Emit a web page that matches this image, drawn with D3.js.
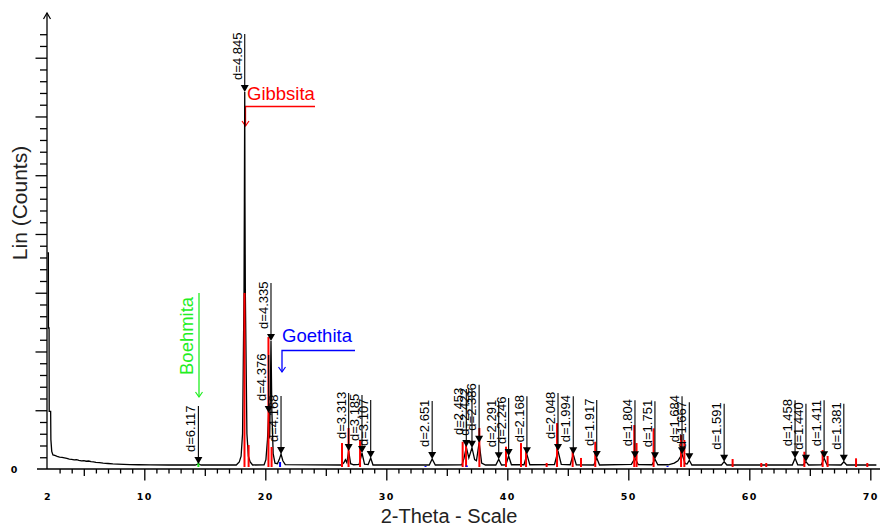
<!DOCTYPE html>
<html lang="en">
 <head>
  <meta charset="UTF-8">
  <title>XRD</title>
  <style>
   body { margin: 0; background: #fff; }
   svg { display: block; font-family: "Liberation Sans", Arial, sans-serif; }
  </style>
 </head>
 <body>
<svg width="881" height="527"></svg>
<script src="https://cdn.jsdelivr.net/npm/d3@7/dist/d3.min.js"></script>
<script>

// measured pattern: [2theta, counts]
var pattern = [[2.00,1838],[2.07,1838],[2.08,1200],[2.13,1200],[2.14,490],[2.26,490],[2.28,250],[2.35,150],[2.45,120],
  [2.6,115],[2.8,108],[3.0,102],[3.2,98],[3.4,94],[3.6,90],[3.8,84],[4.0,82],[4.2,78],[4.4,80],[4.6,74],[4.8,70],
  [5.0,72],[5.2,66],[5.4,68],[5.6,62],[5.8,60],[6.0,56],[6.3,54],[6.6,50],[7.0,47],[7.4,44],[7.8,42],[8.3,40],
  [8.8,38],[9.5,36],[10.5,35],[12.0,34],[14.2,34],[14.47,43],[14.7,34],
  [17.6,34],[17.85,60],[18.0,110],[18.12,300],[18.24,1500],[18.27,2270],[18.30,3209],[18.32,2270],[18.35,1500],[18.48,300],[18.6,110],[18.75,60],[18.95,34],
  [19.9,36],[20.05,80],[20.18,250],[20.28,477],[20.36,260],[20.41,600],[20.47,1090],[20.54,500],[20.65,130],[20.8,50],
  [21.0,45],[21.15,80],[21.30,128],[21.45,70],[21.65,38],
  [26.3,34],[26.5,55],[26.62,80],[26.74,55],[26.89,153],[27.05,45],[27.3,36],[27.75,40],[27.99,136],[28.2,42],[28.5,38],[28.71,94],[28.9,34],
  [33.55,34],[33.79,85],[34.05,34],
  [36.25,36],[36.42,90],[36.61,187],[36.82,95],[37.08,181],[37.3,80],[37.45,70],[37.67,224],[37.88,50],[38.2,34],
  [39.05,34],[39.29,83],[39.52,34],[39.88,36],[40.11,111],[40.34,36],[41.38,36],[41.62,125],[41.86,36],
  [43.9,38],[44.19,153],[44.46,40],[45.2,36],[45.45,125],[45.7,36],[47.15,34],[47.39,94],[47.62,34],
  [50.25,40],[50.55,91],[50.82,38],[51.96,36],[52.20,83],[52.44,36],[53.3,36],[53.8,50],[54.1,70],[54.44,125],[54.7,45],[54.85,42],[55.04,74],[55.25,34],
  [57.7,34],[57.92,62],[58.15,34],
  [63.55,34],[63.78,91],[64.0,36],[64.45,34],[64.68,62],[64.9,34],[65.95,36],[66.18,91],[66.42,36],[67.58,34],[67.81,62],[68.05,34],[70.5,34]];

// reference sticks
var gibbsite2theta = [18.28,18.62,20.26,20.52,26.34,26.88,27.83,36.31,36.59,37.69,39.89,41.13,41.55,43.25,44.11,45.40,46.09,47.27,
  50.49,50.68,52.09,54.36,54.63,58.62,60.99,61.40,64.55,66.06,66.47,68.82,69.75];
var gibbsiteCounts = [1498,204,1123,187,221,349,247,232,204,349,190,221,179,51,391,179,94,232,
  374,221,346,289,247,85,51,51,147,162,111,91,51];
var goethite2theta = [21.22,33.24,36.65,53.24];
var goethiteCounts = [60,25,30,25];
var boehmite2theta = [14.47];
var boehmiteCounts = [55];

// d-value markers
var markerD = ["6.117","4.845","4.376","4.335","4.168","3.313","3.185","3.107","2.651","2.453","2.422","2.386","2.291","2.246",
  "2.168","2.048","1.994","1.917","1.804","1.751","1.684","1.667","1.591","1.458","1.440","1.411","1.381"];
var marker2theta = [14.47,18.30,20.28,20.47,21.30,26.89,27.99,28.71,33.79,36.61,37.08,37.67,39.29,40.11,
  41.62,44.19,45.45,47.39,50.55,52.20,54.44,55.04,57.92,63.78,64.68,66.18,67.81];
var markerCounts = [43,3209,477,1090,128,153,136,94,85,187,181,224,83,111,
  125,153,125,94,91,83,125,74,62,91,62,91,62];

var xLabels = [2,10,20,30,40,50,60,70];

var svg = d3.select("svg");
var x = d3.scaleLinear().domain([2, 70.8]).range([47.5, 880]);
var y = d3.scaleLinear().domain([0, 3872]).range([469, 14]);

// x axis: line + three tick sizes
svg.append("line").attr("x1", 37).attr("x2", 880).attr("y1", y(0)).attr("y2", y(0))
  .attr("stroke", "#000").attr("stroke-width", 1.3);
function xTicks(vals, size) {
  svg.append("g").attr("transform", "translate(0," + y(0) + ")")
    .call(d3.axisBottom(x).tickValues(vals).tickSize(size).tickFormat(""))
    .call(function(g){ g.select(".domain").remove(); g.selectAll("line").attr("stroke", "#000").attr("stroke-width", 1.3); });
}
xTicks(d3.range(3, 71, 1).filter(function(v){ return v % 5 != 0; }), 4.5);
xTicks(d3.range(5, 71, 10), 7);
xTicks(d3.range(10, 71, 10), 11.5);
svg.append("g").attr("transform", "translate(0," + y(0) + ")")
  .call(d3.axisBottom(x).tickValues(xLabels).tickSize(0).tickPadding(24).tickFormat(d3.format("d")))
  .call(function(g){
    g.select(".domain").remove();
    g.selectAll("text").attr("font-family", "DejaVu Sans, sans-serif").attr("font-weight", "bold")
      .attr("font-size", 9.5).attr("letter-spacing", 1.5).attr("fill", "#000");
  });

// y axis
svg.append("line").attr("x1", x(2) - 0.5).attr("x2", x(2) - 0.5).attr("y1", y(0)).attr("y2", 13)
  .attr("stroke", "#000").attr("stroke-width", 1.3);
svg.append("path").attr("d", "M" + (x(2) - 4) + ",19L" + (x(2) - 0.5) + ",13L" + (x(2) + 3) + ",19")
  .attr("fill", "none").attr("stroke", "#000").attr("stroke-width", 1.2);
function yTicks(vals, size) {
  svg.append("g").attr("transform", "translate(" + (x(2) - 0.5) + ",0)")
    .call(d3.axisLeft(y).tickValues(vals).tickSize(size).tickFormat(""))
    .call(function(g){ g.select(".domain").remove(); g.selectAll("line").attr("stroke", "#000").attr("stroke-width", 1.3); });
}
yTicks(d3.range(100, 3800, 100).filter(function(v){ return v % 500 != 0; }), 7);
yTicks(d3.range(500, 3800, 500), 11.5);
svg.append("text").attr("x", 14).attr("y", y(0) + 3.5).attr("text-anchor", "middle")
  .attr("font-family", "DejaVu Sans, sans-serif").attr("font-weight", "bold").attr("font-size", 9.5).text("0");

// axis titles
svg.append("text").attr("transform", "translate(27,203) rotate(-90)").attr("text-anchor", "middle")
  .attr("font-size", 21).attr("fill", "#222").text("Lin (Counts)");
svg.append("text").attr("x", 449).attr("y", 523).attr("text-anchor", "middle")
  .attr("font-size", 20).attr("fill", "#222").text("2-Theta - Scale");

// phase labels with pointers
function chevron(cx, cy, color) {
  svg.append("path").attr("d", "M" + (cx - 3.5) + "," + (cy - 5) + "L" + cx + "," + cy + "L" + (cx + 3.5) + "," + (cy - 5))
    .attr("fill", "none").attr("stroke", color).attr("stroke-width", 1.2);
}
svg.append("text").attr("x", 247).attr("y", 100).attr("font-size", 18.5).attr("fill", "#ff0000").text("Gibbsita");
svg.append("path").attr("d", "M315,106.5H245.5V126").attr("fill", "none").attr("stroke", "#ff0000").attr("stroke-width", 1.3);
chevron(245.5, 126, "#ff0000");

svg.append("text").attr("transform", "translate(193,375) rotate(-90)").attr("font-size", 18.5).attr("fill", "#22ee22").text("Boehmita");
svg.append("line").attr("x1", 199).attr("x2", 199).attr("y1", 293).attr("y2", 397).attr("stroke", "#22ee22").attr("stroke-width", 1.3);
chevron(199, 397, "#22ee22");

svg.append("text").attr("x", 282).attr("y", 342).attr("font-size", 18.5).attr("fill", "#0000ff").text("Goethita");
svg.append("path").attr("d", "M355,350.5H282V372").attr("fill", "none").attr("stroke", "#0000ff").attr("stroke-width", 1.3);
chevron(282, 372, "#0000ff");

// measured pattern
svg.append("path").datum(pattern)
  .attr("d", d3.line().x(function(d){ return x(d[0]); }).y(function(d){ return y(d[1]); }))
  .attr("fill", "none").attr("stroke", "#000").attr("stroke-width", 1.3);

// sticks
function sticks(tt, cc, color) {
  svg.append("g").selectAll("line").data(tt).enter().append("line")
    .attr("x1", function(d){ return x(d); }).attr("x2", function(d){ return x(d); })
    .attr("y1", y(0) - 2).attr("y2", function(d, i){ return y(cc[i]); })
    .attr("stroke", color).attr("stroke-width", 2);
}
sticks(gibbsite2theta, gibbsiteCounts, "#ff0000");
sticks(goethite2theta, goethiteCounts, "#0000ff");
sticks(boehmite2theta, boehmiteCounts, "#22ee22");

// d markers
var mk = svg.append("g").selectAll("g").data(markerD).enter().append("g")
  .attr("transform", function(d, i){ return "translate(" + x(marker2theta[i]) + "," + y(markerCounts[i]) + ")"; });
mk.append("line").attr("x1", 0).attr("x2", 0).attr("y1", -58).attr("y2", -3).attr("stroke", "#000").attr("stroke-width", 1.1);
mk.append("path").attr("d", "M-4,-7L4,-7L0,0Z").attr("fill", "#000");
mk.append("text").attr("transform", "translate(-3,-12) rotate(-90)")
  .attr("font-size", 13).attr("fill", "#000").text(function(d){ return "d=" + d; });

</script>
 </body>
</html>
